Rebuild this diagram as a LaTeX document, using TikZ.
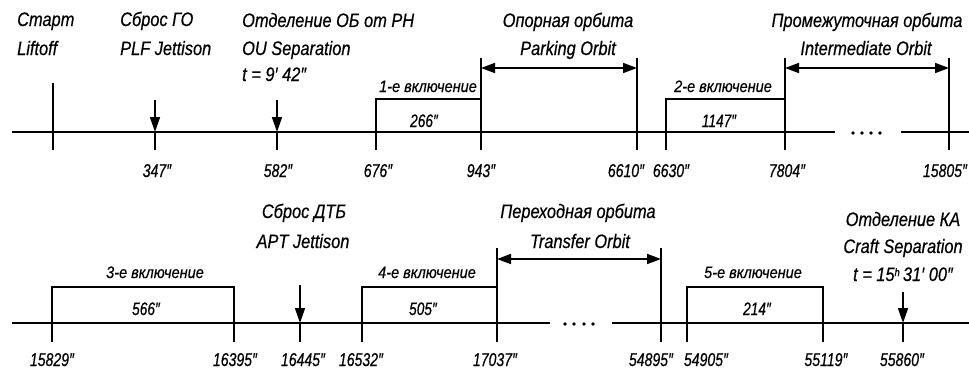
\documentclass[tikz,border=0pt]{standalone}
\usepackage{fontspec}
\usetikzlibrary{arrows.meta}
\newfontfamily\labfont{Liberation Sans}[FakeStretch=0.84,FakeBold=0.5]
\newfontfamily\burnfont{Liberation Sans}[FakeStretch=0.88,FakeBold=0.4]
\newfontfamily\numfont{Liberation Sans}[FakeStretch=0.76,FakeBold=0.5]
\newcommand{\sprm}{′}
\newcommand{\dprm}{″}
\tikzset{
  lab/.style={font=\labfont\itshape\fontsize{19.5}{22}\selectfont, inner sep=0pt},
  burn/.style={font=\burnfont\itshape\fontsize{16.5}{18}\selectfont, inner sep=0pt, anchor=base},
  num/.style={font=\numfont\itshape\fontsize{18.5}{20}\selectfont, inner sep=0pt, anchor=base},
  inum/.style={font=\numfont\itshape\fontsize{18}{20}\selectfont, inner sep=0pt, anchor=base},
  axisl/.style={line width=1.7pt},
  tk/.style={line width=1.7pt},
  boxl/.style={line width=2.6pt, line cap=rect},
  darr/.style={line width=1.7pt, -{Triangle[length=15pt,width=10pt]}},
  orb/.style={line width=1.7pt, {Triangle[length=14pt,width=10pt]}-{Triangle[length=14pt,width=10pt]}},
  dotc/.style={fill=black, draw=none, circle, minimum size=3.8pt, inner sep=0pt},
}
\begin{document}
\begin{tikzpicture}[x=1pt,y=-1pt]
\useasboundingbox (0,0) rectangle (969,372);
\fill[white] (0,0) rectangle (969,372);

% ================= ROW 1 =================
\coordinate (a1s) at (12,132);
\coordinate (a1e) at (835,132);
\coordinate (a1r) at (901,132);
\coordinate (a1f) at (969,132);
\draw[axisl] (a1s) -- (a1e);
\draw[axisl] (a1r) -- (a1f);
\foreach \i/\x in {1/853,2/862,3/871,4/880} \node[dotc] (d1\i) at (\x,133) {};

% start tick
\coordinate (s0t) at (53,83); \coordinate (s0b) at (53,150);
\draw[tk] (s0t) -- (s0b);

% down arrows
\coordinate (q1t) at (155,100); \coordinate (q1a) at (155,132); \coordinate (q1b) at (155,150);
\draw[darr] (q1t) -- (q1a); \draw[tk] (q1a) -- (q1b);
\coordinate (q2t) at (277,100); \coordinate (q2a) at (277,132); \coordinate (q2b) at (277,150);
\draw[darr] (q2t) -- (q2a); \draw[tk] (q2a) -- (q2b);

% burn 1
\coordinate (b1l) at (376,132); \coordinate (b1lt) at (376,99); \coordinate (b1rt) at (481,99);
\coordinate (b1lb) at (376,150);
\draw[boxl] (b1l) -- (b1lt) -- (b1rt);
\draw[tk] (b1l) -- (b1lb);
\coordinate (t943t) at (481,58); \coordinate (t943b) at (481,150);
\draw[tk] (t943t) -- (t943b);
\coordinate (o1l) at (481,68); \coordinate (o1r) at (637,68);
\draw[orb] (o1l) -- (o1r);
\coordinate (t6610t) at (637,58); \coordinate (t6610b) at (637,150);
\draw[tk] (t6610t) -- (t6610b);

% burn 2
\coordinate (b2l) at (666,132); \coordinate (b2lt) at (666,99); \coordinate (b2rt) at (785,99);
\coordinate (b2lb) at (666,150);
\draw[boxl] (b2l) -- (b2lt) -- (b2rt);
\draw[tk] (b2l) -- (b2lb);
\coordinate (t7804t) at (785,58); \coordinate (t7804b) at (785,150);
\draw[tk] (t7804t) -- (t7804b);
\coordinate (o2l) at (785,68); \coordinate (o2r) at (949,68);
\draw[orb] (o2l) -- (o2r);
\coordinate (t15805t) at (949,58); \coordinate (t15805b) at (949,150);
\draw[tk] (t15805t) -- (t15805b);

% labels row 1
\node[lab, anchor=base west] (l1a) at (17,26) {Старт};
\node[lab, anchor=base west] (l1b) at (17,55) {Liftoff};
\node[lab, anchor=base west] (l2a) at (120,26) {Сброс ГО};
\node[lab, anchor=base west] (l2b) at (120,55) {PLF Jettison};
\node[lab, anchor=base west] (l3a) at (242,27) {Отделение ОБ от РН};
\node[lab, anchor=base west] (l3b) at (242,55) {OU Separation};
\node[lab, anchor=base west] (l3c) at (242,81) {t = 9\sprm\ 42\dprm};
\node[lab, anchor=base] (l4a) at (568,27) {Опорная орбита};
\node[lab, anchor=base] (l4b) at (568,55) {Parking Orbit};
\node[lab, anchor=base] (l5a) at (867,27) {Промежуточная орбита};
\node[lab, anchor=base] (l5b) at (866,55) {Intermediate Orbit};

\node[burn] (bl1) at (428,92) {1-е включение};
\node[inum] (bv1) at (424,127) {266\dprm};
\node[burn] (bl2) at (723,92) {2-е включение};
\node[inum] (bv2) at (719,127) {1147\dprm};

\node[num] (n347) at (157,177) {347\dprm};
\node[num] (n582) at (278,177) {582\dprm};
\node[num] (n676) at (378,177) {676\dprm};
\node[num] (n943) at (481,177) {943\dprm};
\node[num] (n6610) at (626,177) {6610\dprm};
\node[num] (n6630) at (671,177) {6630\dprm};
\node[num] (n7804) at (787,177) {7804\dprm};
\node[num] (n15805) at (945,177) {15805\dprm};

% ================= ROW 2 =================
\coordinate (a2s) at (12,323);
\coordinate (a2e) at (550,323);
\coordinate (a2r) at (612,323);
\coordinate (a2f) at (969,323);
\draw[axisl] (a2s) -- (a2e);
\draw[axisl] (a2r) -- (a2f);
\foreach \i/\x in {1/565,2/574,3/584,4/593} \node[dotc] (d2\i) at (\x,324) {};

% burn 3
\coordinate (b3l) at (52,323); \coordinate (b3lt) at (52,287); \coordinate (b3rt) at (234,287); \coordinate (b3r) at (234,323);
\coordinate (b3lb) at (52,342); \coordinate (b3rb) at (234,342);
\draw[boxl] (b3l) -- (b3lt) -- (b3rt) -- (b3r);
\draw[tk] (b3l) -- (b3lb);
\draw[tk] (b3r) -- (b3rb);

% APT arrow
\coordinate (q3t) at (300,285); \coordinate (q3a) at (300,323); \coordinate (q3b) at (300,342);
\draw[darr] (q3t) -- (q3a); \draw[tk] (q3a) -- (q3b);

% burn 4
\coordinate (b4l) at (362,323); \coordinate (b4lt) at (362,287); \coordinate (b4rt) at (497,287);
\coordinate (b4lb) at (362,342);
\draw[boxl] (b4l) -- (b4lt) -- (b4rt);
\draw[tk] (b4l) -- (b4lb);
\coordinate (t17037t) at (497,248); \coordinate (t17037b) at (497,342);
\draw[tk] (t17037t) -- (t17037b);
\coordinate (o3l) at (497,259); \coordinate (o3r) at (661,259);
\draw[orb] (o3l) -- (o3r);
\coordinate (t54895t) at (661,248); \coordinate (t54895b) at (661,342);
\draw[tk] (t54895t) -- (t54895b);

% burn 5
\coordinate (b5l) at (687,323); \coordinate (b5lt) at (687,287); \coordinate (b5rt) at (823,287); \coordinate (b5r) at (823,323);
\coordinate (b5lb) at (687,342); \coordinate (b5rb) at (823,342);
\draw[boxl] (b5l) -- (b5lt) -- (b5rt) -- (b5r);
\draw[tk] (b5l) -- (b5lb);
\draw[tk] (b5r) -- (b5rb);

% separation arrow
\coordinate (q4t) at (903,292); \coordinate (q4a) at (903,323); \coordinate (q4b) at (903,342);
\draw[darr] (q4t) -- (q4a); \draw[tk] (q4a) -- (q4b);

% labels row 2
\node[lab, anchor=base] (m1a) at (304,218) {Сброс ДТБ};
\node[lab, anchor=base] (m1b) at (303,248) {APT Jettison};
\node[lab, anchor=base] (m2a) at (578,218) {Переходная орбита};
\node[lab, anchor=base] (m2b) at (580,248) {Transfer Orbit};
\node[lab, anchor=base] (m3a) at (903,226) {Отделение КА};
\node[lab, anchor=base] (m3b) at (903,253) {Craft Separation};
\node[lab, anchor=base] (m3c) at (903,281) {t = 15\raisebox{5pt}{\fontsize{11}{11}\selectfont h}\,31\sprm\ 00\dprm};

\node[burn] (bl3) at (155,278) {3-е включение};
\node[inum] (bv3) at (146,315) {566\dprm};
\node[burn] (bl4) at (427,278) {4-е включение};
\node[inum] (bv4) at (423,315) {505\dprm};
\node[burn] (bl5) at (753,278) {5-е включение};
\node[inum] (bv5) at (757,315) {214\dprm};

\node[num] (n15829) at (52,366) {15829\dprm};
\node[num] (n16395) at (235,366) {16395\dprm};
\node[num] (n16445) at (303,366) {16445\dprm};
\node[num] (n16532) at (361,366) {16532\dprm};
\node[num] (n17037) at (495,366) {17037\dprm};
\node[num] (n54895) at (651,366) {54895\dprm};
\node[num] (n54905) at (706,366) {54905\dprm};
\node[num] (n55119) at (826,366) {55119\dprm};
\node[num] (n55860) at (902,366) {55860\dprm};
\end{tikzpicture}
\end{document}
